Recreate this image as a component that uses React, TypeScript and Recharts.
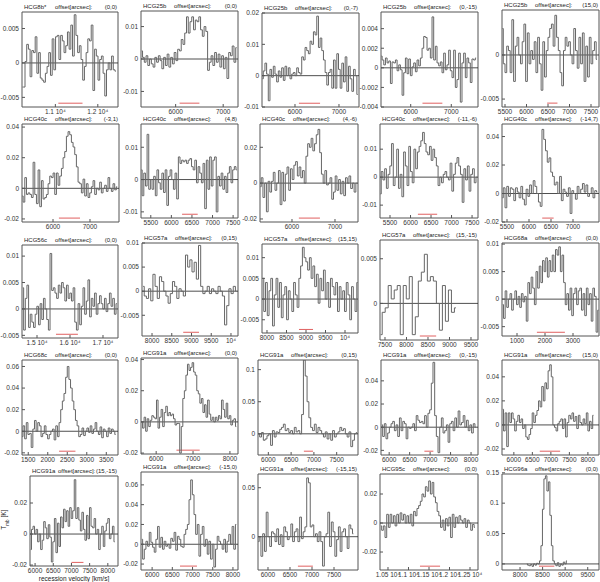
import React from 'react';
import { LineChart, Line, XAxis, YAxis, ReferenceLine, ReferenceArea } from 'recharts';

const FONT = '"Liberation Sans", Arial, sans-serif';

// Spectra values in mK (converted to K when building the table)
const p01 = [-3.5,-3.5,0.2,2.7,2.0,-2.0,1.8,1.5,3.8,-1.5,1.5,-2.2,-2.5,-2.8,-1.5,-0.5,1.5,-1.8,3.5,-1.0,3.8,4.0,0.5,4.0,3.2,1.5,2.5,4.5,2.0,5.5,1.0,7.0,4.0,1.5,2.5,0.5,-2.5,-0.5,1.5,3.5,3.2,5.5,-4.0,2.0,1.0,-2.5,0.5,1.0,-1.5,-4.8,-1.0,0.0,-1.0,1.0,-1.0,-1.2];
const p02 = [2.5,0.5,-1.0,1.0,-2.0,0.0,-1.5,-2.5,0.5,-1.0,1.0,-0.5,-3.0,0.5,-2.0,1.5,-2.5,0.5,-1.5,2.0,-0.5,3.0,2.5,
  6.0,4.5,8.0,13.0,8.0,11.5,13.0,9.0,12.0,11.5,13.0,9.0,7.0,10.0,8.5,
  -3.5,-1.0,1.0,-2.0,2.0,-1.0,1.5,-2.5,1.0,-3.0,0.5,-6.0,2.0,1.0,4.0,-1.0,3.5];
const p03 = [-1.0,1.5,4.0,0.5,-8.0,2.0,-0.5,3.0,0.5,-2.0,1.5,-0.5,2.5,-1.5,3.0,0.0,2.5,-1.0,0.5,1.0,0.0,2.5,1.0,0.5,
  6.0,5.0,9.0,8.0,7.0,11.0,10.0,14.0,13.0,19.0,9.0,12.0,8.0,5.0,1.0,
  -3.0,1.0,2.0,-4.0,5.0,-4.0,7.0,2.0,-4.0,4.0,-2.0,6.0,-5.0,3.0,-1.0,-5.0,2.0,0.0,-6.0];
const p04 = [1.2,0.8,0.3,1.0,0.5,0.7,-1.6,0.6,0.5,0.8,-0.3,0.3,-0.2,-2.8,-0.5,1.0,-0.6,0.9,-0.8,0.1,0.5,-0.4,0.8,0.2,1.0,
  2.0,3.2,3.1,1.8,2.0,1.0,5.2,0.8,2.2,0.5,0.2,
  0.6,-0.5,1.5,-0.2,0.3,1.8,-0.3,-1.0,1.8,-2.0,-1.2,1.5,-3.5,0.5,1.5,-1.0,1.0,0.5,-1.5,0.9,0.8,1.0];
const p05 = [3.0,-1.0,-2.0,1.0,0.5,-2.0,4.0,-3.0,1.0,2.0,0.0,-1.0,1.5,3.5,-3.0,2.5,-1.0,0.5,-0.5,1.5,-2.0,2.0,-1.0,-4.0,1.5,-2.5,0.5,2.0,3.0,3.5,1.0,4.5,2.0,0.5,-2.0,-3.5,0.5,2.0,1.0,1.5,0.0,-1.0,3.0,0.5,-1.5,2.0,-1.0,2.5,-3.0,1.0,-2.5,2.0,-1.0,0.5,1.5,-0.5];
const p06 = [-5,-9,7,-4,-3,-4,-6,17,-4,-10,12,-12,5,-7,-6,-4,3,8,7,10,-4,10,2,
  8,13,20,24,34,37,35,30,27,22,14,4,
  3,-3,6,-5,3,-6,-3,1,5,-4,0,-1,4,-3,0,2,-2,7,0,-2,3,-1,1];
const p07 = [3,-5,2,-2,14,-3,0,-3,1,-5,3,-1,-3,2,-4,3,-8,1,3,0,-3,2,-6,
  7,5,6,5.5,6,5,6,6.5,4,3,6,
  -1,4,2,-1,5,-9,6,-3,7,-2,6,7,-10,1,-2,2,-3,1,-4,2,4,-1,3,4,3];
const p08 = [-2,3,-8,0,-16,1,-5,1,6,-4,0,7,-12,6,-10,5,9,-4,8,2,10,12,4,9,3,7,0,
  15,22,20,25,18,22,27,30,17,
  5,0,7,-1,0,3,-9,-5,4,-4,2,-6,1,-7,3,0,4,-3,0,-5,0];
const p09 = [-6,2,-1,3,-4,1,4,12,-3,0,10,-4,1,-7,9,4,-3,11,2,-2,10,3,
  9,11,13,16,12,9,8,11,6,10,7,4,
  -3,0,-2,1,2,0,-1,5,-5,1,5,7,4,1,-9,3,-1,4,-5,1,3,-2,0];
const p10 = [-3,4,-10,5,-2,4,3,-5,4,1,-3,5,-4,-8,3,-2,6,0,9,5,0,-6,-9,
  45,38,30,22,25,15,12,6,8,
  0,12,-5,3,1,-2,4,-14,2,0,-4,5,0,3,7,1,6,-2,0,4,-3,2,1];
const p11 = [4,-4,2,4.5,-3.5,-1,-2.5,-3.5,-1,0.5,-3,1,-2,2,0,-2,-4,10.5,3.5,4,3,2,4.5,3,5,4,1.5,4.5,2,3,1.5,4,-2.5,-4,1,-3,0.5,4,-1,1.5,5.5,-1.5,2,0.5,3,-1,1,2.5,1,0,2,-0.5,1,3,0.5,2,-1,1];
const p12 = [1,-1,-1.5,0.5,-2,3.5,1,-1.5,3,2,0,-1,-2.5,-0.5,2,1,-1.5,0.5,0,-1,7.5,5,6.5,4,6,2.5,9.5,1,-0.5,0,1,-0.5,0.5,0,-0.5,1,0,-1,-7,-3,0.5,-0.5,1,0];
const p13 = [5,-3,4,-4,2,5,-6.5,1,5,-2,4,-4.5,1,3,-5,2,0,-3,4,1,-2,5,8,12.5,10,9,7,10,5,8,3,6,-1,5,2,7,0,4,-2,5,3,1,4,-3,3,0,2,-3,4,1,-5,3,0,-3,4];
const p14 = [-3.5,-1,-0.5,2,0.5,1.5,2,-3.5,2,0.5,3,-3.5,-1.5,2.5,3.5,5.5,2.5,3,2.5,0,-3,2,-2,1.5,-1,-0.5];
const p15 = [-1,-3.5,1.5,-1.5,0,1,-2,0,1.5,-1,0.5,-1.5,1,-0.5,0.5,-4,3,1,4,2,-1,5,2,6,3,7,5,7.5,4,7,5,8,5,9,8,9.5,5,8,3,-1,1,-2,2,-3,1,2,-1,1.5,2,-2,1,-3,2,-1,1,-4,2,0.5,-6,-2];
const p16 = [-5,5,-7,8,-3,-2,-15,2,10,0,8,5,-5,-2,5,-3,-7,-3,0,2,-8,5,-5,8,20,28,35,50,60,48,40,28,20,10,5,-5,-3,3,-4,0,3,-1,5,-2,2,8,0,-3,4,-6,2,0,-5,3,-2,2,0,-3];
const p17 = [0,-4,3,-6,2,-3,1,4,3,2,14,-4,3,8,-3,6,10,4,6,4,5,2,-2,-1,-1,-20,-3,15,20,30,37,33,35,38,32,30,20,18,12,15,6,11,3,14,5,1,3,0,3,1,4,2,14,8,3,12,2,4,-2,1,2,-3];
const p18 = [0,-5,2,-10,-8,-3,0,-18,5,-5,3,2,7,10,15,5,8,2,5,0,10,3,5,0,30,115,90,50,25,10,5,15,2,10,5,0,-5,3,-8,0,-10,5,-5,0,3,10,5,8,0,-5,3,-20,-10,0,2];
const p19 = [2,-8,3,-10,-5,0,3,5,-3,2,-8,8,-3,5,3,-10,0,-1,0,3,-3,10,6,4,5,3,10,0,12,15,38,56,10,-8,-22,0,8,-5,-3,2,-13,3,5,-3,8,0,14,2,4,10,0,6,-3,2,-5,3,0];
const p20 = [13,-5,10,-18,10,2,10,5,-5,3,8,2,5,-3,0,-10,-12,-8,-3,10,2,8,12,20,15,32,20,35,30,45,50,40,0,-2,-5,1,3,5,-3,5,-10,2,8,5,10,3,7,-3,8,2,0,5,1,10,-5,3,-3,8];
const p21 = [-10,3,5,0,3,-5,0,-10,-4,8,4,-3,6,-2,-18,-5,10,-12,7,-8,11,4,16,8,15,5,17,10,15,35,10,17,9,2,14,3,-4,12,-3,17,5,4,10,0,3,-10,0,5,-8,2,7,10,-3,0,5,-5];
const p22 = [5,-15,-5,3,-2,12,2,-3,-8,5,18,-3,7,-5,3,-2,0,-4,6,3,12,-6,8,5,-2,-3,10,15,20,45,65,50,30,10,20,-12,10,18,-2,5,-10,3,-15,0,-23,-5,8,3,0,-5,5,-8,3,10,0,18,-5,20];
const p23 = [-5,0,-20,3,-15,25,0,-10,5,3,-5,8,-8,2,-10,10,5,-3,0,13,-5,5,8,-5,20,-2,5,10,60,55,10,12,0,3,-5,5,-5,-30,0,3,25,-10,15,5,-20,-3,10,-15,5,8,0,-12,12,8,3];
const p24 = [-2,-5,-2,-10,6,-3,6,0,5,-2,6,0,7,2,6,0,5,0,6,-2,8,5,10,12,15,20,18,25,22,29,20,28,18,14,8,5,-3,2,-5,3,-2,4,-10,6,-3,4,0,5,2,0,3,-3,2,0,-5,-1,-3];
const p25 = [0,-2,-3,-1,-4,0,-2,1,0,5,30,90,140,145,120,135,80,30,5,0,-3,2,-4,0,-2,3,0,5];

// Tick values
const xt11 = [11000, 12000];
const xt67 = [6000, 7000];
const xt5k = [5500, 6000, 6500, 7000, 7500];
const xt5k4 = [5500, 6000, 6500, 7000];
const xt15 = [15000, 16000, 17000];
const xt8k = [8000, 8500, 9000, 9500, 10000];
const xt75 = [7500, 8000, 8500, 9000, 9500];
const xt123 = [1000, 2000, 3000];
const xt1535 = [1500, 2000, 2500, 3000, 3500];
const xt678 = [6000, 7000, 8000];
const xt6575 = [6000, 6500, 7000, 7500];
const xt68 = [6000, 6500, 7000, 7500, 8000];
const xt105 = [10500, 11000, 11500, 12000, 12500];
const xt895 = [8000, 8500, 9000, 9500];

const e4 = (v: number) => `${v / 10000} 10⁴`;
const e4last = (v: number) => (v === 10000 ? '10⁴' : String(v));
const plain = (v: number) => String(v);
const fmtY = (v: number) => (v === 0 ? '0' : (v < 0 ? '-' : '') + String(Math.abs(v)));

type P = {
  name: string; coord: string; box: number[]; xd: number[]; xt: number[]; xf: (v: number) => string;
  yd: number[]; yt: number[]; v0: number; dv: number; vals: number[]; red: number[];
};

const panels: P[] = [
  { name: 'HCG8b*', coord: '(0,0)', box: [22, 12, 118, 107], xd: [10214, 12476], xt: xt11, xf: e4, yd: [-0.0064, 0.0074], yt: [-0.005, 0, 0.005], v0: 10225, dv: 40, vals: p01, red: [11070, 11640] },
  { name: 'HCG25b', coord: '(0,0)', box: [141, 11, 238, 107], xd: [5271, 7312], xt: xt67, xf: plain, yd: [-0.0148, 0.0148], yt: [-0.01, 0, 0.01], v0: 5285, dv: 37, vals: p02, red: [6083, 6500] },
  { name: 'HCG25b', coord: '(0,-7)', box: [262, 13, 359, 107], xd: [5250, 7455], xt: xt67, xf: plain, yd: [-0.01, 0.02], yt: [-0.01, 0, 0.01, 0.02], v0: 5260, dv: 38, vals: p03, red: [6090, 6570] },
  { name: 'HCG25b', coord: '(0,-15)', box: [381, 12, 478, 107], xd: [5268, 7658], xt: xt67, xf: plain, yd: [-0.004, 0.0057], yt: [-0.004, -0.002, 0, 0.002, 0.004], v0: 5275, dv: 41, vals: p04, red: [6290, 6780] },
  { name: 'HCG25b', coord: '(15,0)', box: [502, 10, 599, 107], xd: [5430, 7686], xt: xt5k, xf: plain, yd: [-0.0059, 0.0051], yt: [-0.005, 0], v0: 5440, dv: 40, vals: p05, red: [6480, 6720] },

  { name: 'HCG40c', coord: '(-3,1)', box: [22, 124, 119, 222], xd: [5162, 7784], xt: xt67, xf: plain, yd: [-0.022, 0.042], yt: [-0.02, 0, 0.02, 0.04], v0: 5170, dv: 45, vals: p06, red: [6160, 6730] },
  { name: 'HCG40c', coord: '(4,8)', box: [141, 124, 238, 218], xd: [5262, 7619], xt: xt5k, xf: plain, yd: [-0.0119, 0.0172], yt: [-0.01, 0, 0.01], v0: 5270, dv: 40, vals: p07, red: [6260, 6640] },
  { name: 'HCG40c', coord: '(4,-6)', box: [260, 124, 358, 222], xd: [5256, 7535], xt: xt67, xf: plain, yd: [-0.0217, 0.033], yt: [-0.02, 0, 0.02], v0: 5265, dv: 40, vals: p08, red: [6160, 6650] },
  { name: 'HCG40c', coord: '(-11,-6)', box: [380, 124, 478, 218], xd: [5256, 7645], xt: xt5k, xf: plain, yd: [-0.0146, 0.019], yt: [-0.01, 0, 0.01], v0: 5265, dv: 42, vals: p09, red: [6180, 6650] },
  { name: 'HCG40c', coord: '(-14,7)', box: [502, 124, 599, 222], xd: [5386, 7591], xt: xt5k4, xf: plain, yd: [-0.02, 0.0488], yt: [-0.02, 0, 0.02, 0.04], v0: 5395, dv: 40, vals: p10, red: [6300, 6560] },

  { name: 'HCG56c', coord: '(0,0)', box: [22, 245, 118, 338], xd: [14545, 17455], xt: xt15, xf: e4, yd: [-0.0055, 0.0121], yt: [-0.005, 0, 0.005, 0.01], v0: 14570, dv: 50, vals: p11, red: [15575, 16240] },
  { name: 'HCG57a', coord: '(0,15)', box: [142, 243, 238, 336], xd: [7746, 10178], xt: xt8k, xf: e4last, yd: [-0.0093, 0.01], yt: [-0.005, 0, 0.005, 0.01], v0: 7775, dv: 55, vals: p12, red: [8790, 9190] },
  { name: 'HCG57a', coord: '(15,15)', box: [262, 244, 358, 333], xd: [7872, 10333], xt: xt8k, xf: e4last, yd: [-0.0082, 0.0133], yt: [-0.005, 0, 0.005, 0.01], v0: 7895, dv: 45, vals: p13, red: [8820, 9180] },
  { name: 'HCG57a', coord: '(15,-15)', box: [380, 240, 478, 340], xd: [7384, 9663], xt: xt75, xf: plain, yd: [-0.0041, 0.0071], yt: [0, 0.005], v0: 7400, dv: 70, vals: p14, red: [8310, 8690] },
  { name: 'HCG68a', coord: '(0,0)', box: [502, 243, 599, 336], xd: [464, 3928], xt: xt123, xf: plain, yd: [-0.0067, 0.0102], yt: [-0.005, 0, 0.005, 0.01], v0: 490, dv: 58, vals: p15, red: [1710, 2710] },

  { name: 'HCG68c', coord: '(0,0)', box: [22, 360, 118, 455], xd: [1340, 3800], xt: xt1535, xf: plain, yd: [-0.022, 0.066], yt: [-0.02, 0, 0.02, 0.04, 0.06], v0: 1345, dv: 42, vals: p16, red: [2290, 2710] },
  { name: 'HCG91a', coord: '(0,0)', box: [141, 358, 238, 454], xd: [5589, 8219], xt: xt678, xf: plain, yd: [-0.0206, 0.041], yt: [-0.02, 0, 0.02, 0.04], v0: 5610, dv: 42, vals: p17, red: [6550, 7180] },
  { name: 'HCG91a', coord: '(0,15)', box: [258, 360, 358, 455], xd: [5773, 7968], xt: xt6575, xf: plain, yd: [-0.033, 0.115], yt: [0, 0.05, 0.1], v0: 5790, dv: 40, vals: p18, red: [6780, 6980] },
  { name: 'HCG91a', coord: '(0,-15)', box: [381, 360, 478, 455], xd: [5800, 8170], xt: xt68, xf: plain, yd: [-0.024, 0.058], yt: [-0.02, 0, 0.02, 0.04], v0: 5820, dv: 41, vals: p19, red: [6860, 7080] },
  { name: 'HCG91a', coord: '(15,0)', box: [502, 360, 599, 455], xd: [5680, 8300], xt: xt68, xf: plain, yd: [-0.025, 0.054], yt: [-0.02, 0, 0.02, 0.04], v0: 5700, dv: 43, vals: p20, red: [6700, 7250] },

  { name: 'HCG91a', coord: '(15,-15)', box: [30, 476, 118, 566], xd: [5860, 8280], xt: xt68, xf: plain, yd: [-0.0206, 0.0374], yt: [-0.02, 0, 0.02], v0: 5880, dv: 42, vals: p21, red: [7000, 7330] },
  { name: 'HCG91a', coord: '(-15,0)', box: [141, 472, 238, 570], xd: [5725, 8125], xt: xt68, xf: plain, yd: [-0.026, 0.073], yt: [-0.02, 0, 0.02, 0.04, 0.06], v0: 5745, dv: 41, vals: p22, red: [6690, 7110] },
  { name: 'HCG91a', coord: '(-15,15)', box: [258, 474, 358, 570], xd: [5773, 8045], xt: xt6575, xf: plain, yd: [-0.034, 0.064], yt: [0, 0.05], v0: 5780, dv: 40, vals: p23, red: [6680, 7020] },
  { name: 'HCG95c', coord: '(0,0)', box: [380, 474, 478, 570], xd: [10305, 12695], xt: xt105, xf: e4, yd: [-0.0324, 0.0338], yt: [-0.02, 0, 0.02], v0: 10325, dv: 41, vals: p24, red: [11280, 11770] },
  { name: 'HCG96a', coord: '(0,0)', box: [502, 474, 599, 570], xd: [7600, 9750], xt: xt895, xf: plain, yd: [-0.01, 0.148], yt: [0, 0.05, 0.1, 0.15], v0: 8150, dv: 33, vals: p25, red: [8420, 8760] },
];

const tickStyle = { fontSize: 6.5, fill: '#333', fontFamily: FONT };
const TOP = 5;
const RIGHT = 12;

function Panel({ p }: { p: P }) {
  const [l, t, r, b] = p.box;
  const W = r - l;
  const H = b - t;
  const data = p.vals.map((v, i) => ({ x: p.v0 + i * p.dv, y: v / 1000 }));
  const redY = p.yd[0] + (p.yd[1] - p.yd[0]) * 0.04;
  const offLeft = W < 95 ? 26 : 31;
  return (
    <>
      <div style={{ position: 'absolute', left: l - 30, top: t - TOP }}>
        <LineChart width={W + 30 + RIGHT} height={H + 13 + TOP} data={data} margin={{ top: TOP, right: RIGHT, bottom: 0, left: 0 }}>
          <XAxis dataKey="x" type="number" domain={p.xd} ticks={p.xt} tickFormatter={p.xf} allowDataOverflow
            interval={0} height={13} axisLine={false} tickSize={-3} tickMargin={5} tick={tickStyle} stroke="#555" />
          <XAxis xAxisId="top" orientation="top" dataKey="x" type="number" domain={p.xd} ticks={p.xt} allowDataOverflow
            interval={0} height={0} axisLine={false} tickSize={-3} tick={false} stroke="#555" />
          <YAxis type="number" domain={p.yd} ticks={p.yt} tickFormatter={fmtY} allowDataOverflow interval={0}
            width={30} axisLine={false} tickSize={-3} tickMargin={6} tick={tickStyle} stroke="#555" />
          <YAxis yAxisId="r" orientation="right" type="number" domain={p.yd} ticks={p.yt} allowDataOverflow interval={0}
            width={0} axisLine={false} tickSize={-3} tick={false} stroke="#555" />
          <ReferenceArea x1={p.xd[0]} x2={p.xd[1]} y1={p.yd[0]} y2={p.yd[1]} fill="none" fillOpacity={0}
            stroke="#555" strokeWidth={1} strokeOpacity={1} />
          <ReferenceLine y={0} stroke="#222" strokeWidth={0.8} />
          <ReferenceLine segment={[{ x: p.red[0], y: redY }, { x: p.red[1], y: redY }]} stroke="#e06060" strokeWidth={1} />
          <Line type="step" dataKey="y" stroke="#666" strokeWidth={1} dot={false} isAnimationActive={false} />
        </LineChart>
      </div>
      <div style={{ position: 'absolute', left: l + 2, top: t - 8, width: W - 3, height: 7, fontFamily: FONT,
        fontSize: 6, color: '#222', lineHeight: '7px', whiteSpace: 'nowrap' }}>
        <span style={{ position: 'absolute', left: 0 }}>{p.name}</span>
        <span style={{ position: 'absolute', left: offLeft }}>offset[arcsec]:</span>
        <span style={{ position: 'absolute', right: 0 }}>{p.coord}</span>
      </div>
    </>
  );
}

export default function App() {
  return (
    <div style={{ position: 'absolute', left: 0, top: 0, width: 600, height: 582, background: '#fff', overflow: 'hidden' }}>
      {panels.map((p, i) => <Panel key={i} p={p} />)}
      <div style={{ position: 'absolute', left: -14, top: 514, width: 40, textAlign: 'center', transform: 'rotate(-90deg)',
        fontFamily: FONT, fontSize: 6.5, color: '#222', lineHeight: '8px', whiteSpace: 'nowrap' }}>
        T<sub style={{ fontSize: 4.5 }}>mb</sub> [K]
      </div>
      <div style={{ position: 'absolute', left: 30, top: 575, width: 88, textAlign: 'center', fontFamily: FONT,
        fontSize: 6.5, color: '#222', lineHeight: '7px', whiteSpace: 'nowrap' }}>
        recession velocity [km/s]
      </div>
    </div>
  );
}
